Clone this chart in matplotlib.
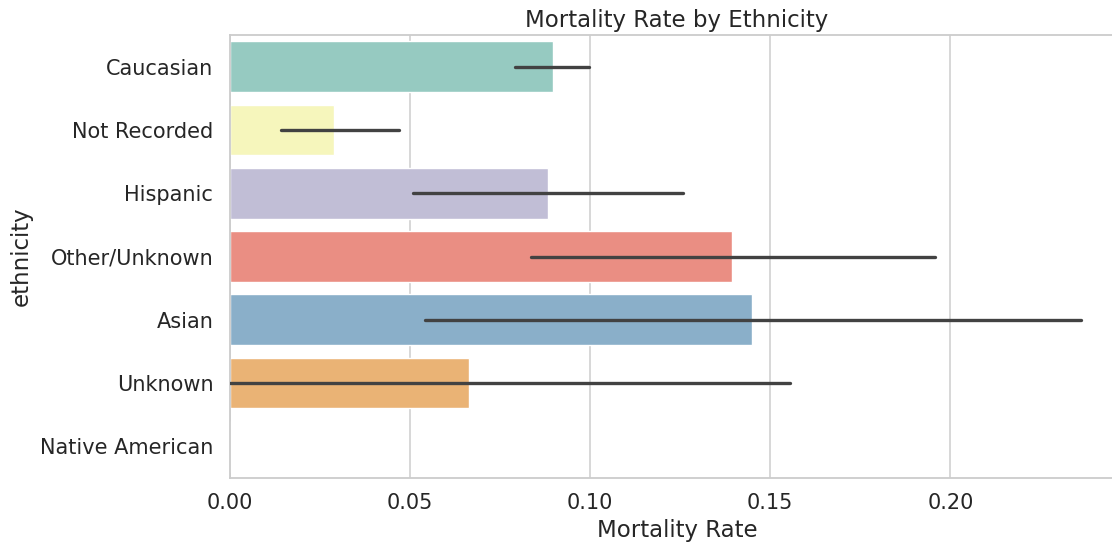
import numpy as np
import matplotlib
matplotlib.use("Agg")
import matplotlib.pyplot as plt
import seaborn as sns

# mortality rate per ethnicity with 95% CI bounds
ethnicity = ["Caucasian", "Not Recorded", "Hispanic", "Other/Unknown",
             "Asian", "Unknown", "Native American"]
rate = [0.0896, 0.0290, 0.0884, 0.1393, 0.1449, 0.0663, 0.0]
ci_low = [0.0792, 0.0141, 0.0509, 0.0836, 0.0542, 0.0, 0.0]
ci_high = [0.0998, 0.0469, 0.1259, 0.1957, 0.2364, 0.1554, 0.0]
xticks = [0.00, 0.05, 0.10, 0.15, 0.20]

sns.set_style("whitegrid")
plt.rcParams['font.family'] = ['DejaVu Sans']
text_col = "#262626"

colors = sns.color_palette("Set3", len(ethnicity), desat=0.75)

fig = plt.figure(figsize=(11.12, 5.48), dpi=100)
W, H = 1112, 548
ax = fig.add_axes([230/W, 1 - 478/H, (1124 - 230)/W, (478 - 35)/H])

y = np.arange(len(ethnicity))
rate = np.array(rate)
ax.barh(y, rate, height=0.8, color=colors, zorder=2)
for yi, lo, hi in zip(y, ci_low, ci_high):
    if hi > lo:
        ax.plot([lo, hi], [yi, yi], color="#424242", lw=2.4,
                solid_capstyle="round", zorder=3)

ax.set_ylim(len(ethnicity) - 0.5, -0.5)
ax.set_xlim(0, 0.2482)
ax.set_yticks(y)
ax.set_yticklabels(ethnicity)
ax.set_xticks(xticks)
ax.set_xticklabels([f"{t:.2f}" for t in xticks])
ax.grid(axis="y", visible=False)
ax.grid(axis="x", color="#d4d4d4", lw=1.3, zorder=0)
for s in ax.spines.values():
    s.set_color("#cccccc")
    s.set_linewidth(1.3)

ax.tick_params(axis="both", labelsize=15, colors=text_col, length=0)
ax.tick_params(axis="y", pad=12)
ax.tick_params(axis="x", pad=11)
ax.set_xlabel("Mortality Rate", fontsize=16.5, color=text_col, labelpad=4)
ax.set_ylabel("ethnicity", fontsize=16.5, color=text_col, labelpad=5)
ax.set_title("Mortality Rate by Ethnicity", fontsize=16.5, color=text_col, pad=6)

fig.savefig("out.png", dpi=100)
